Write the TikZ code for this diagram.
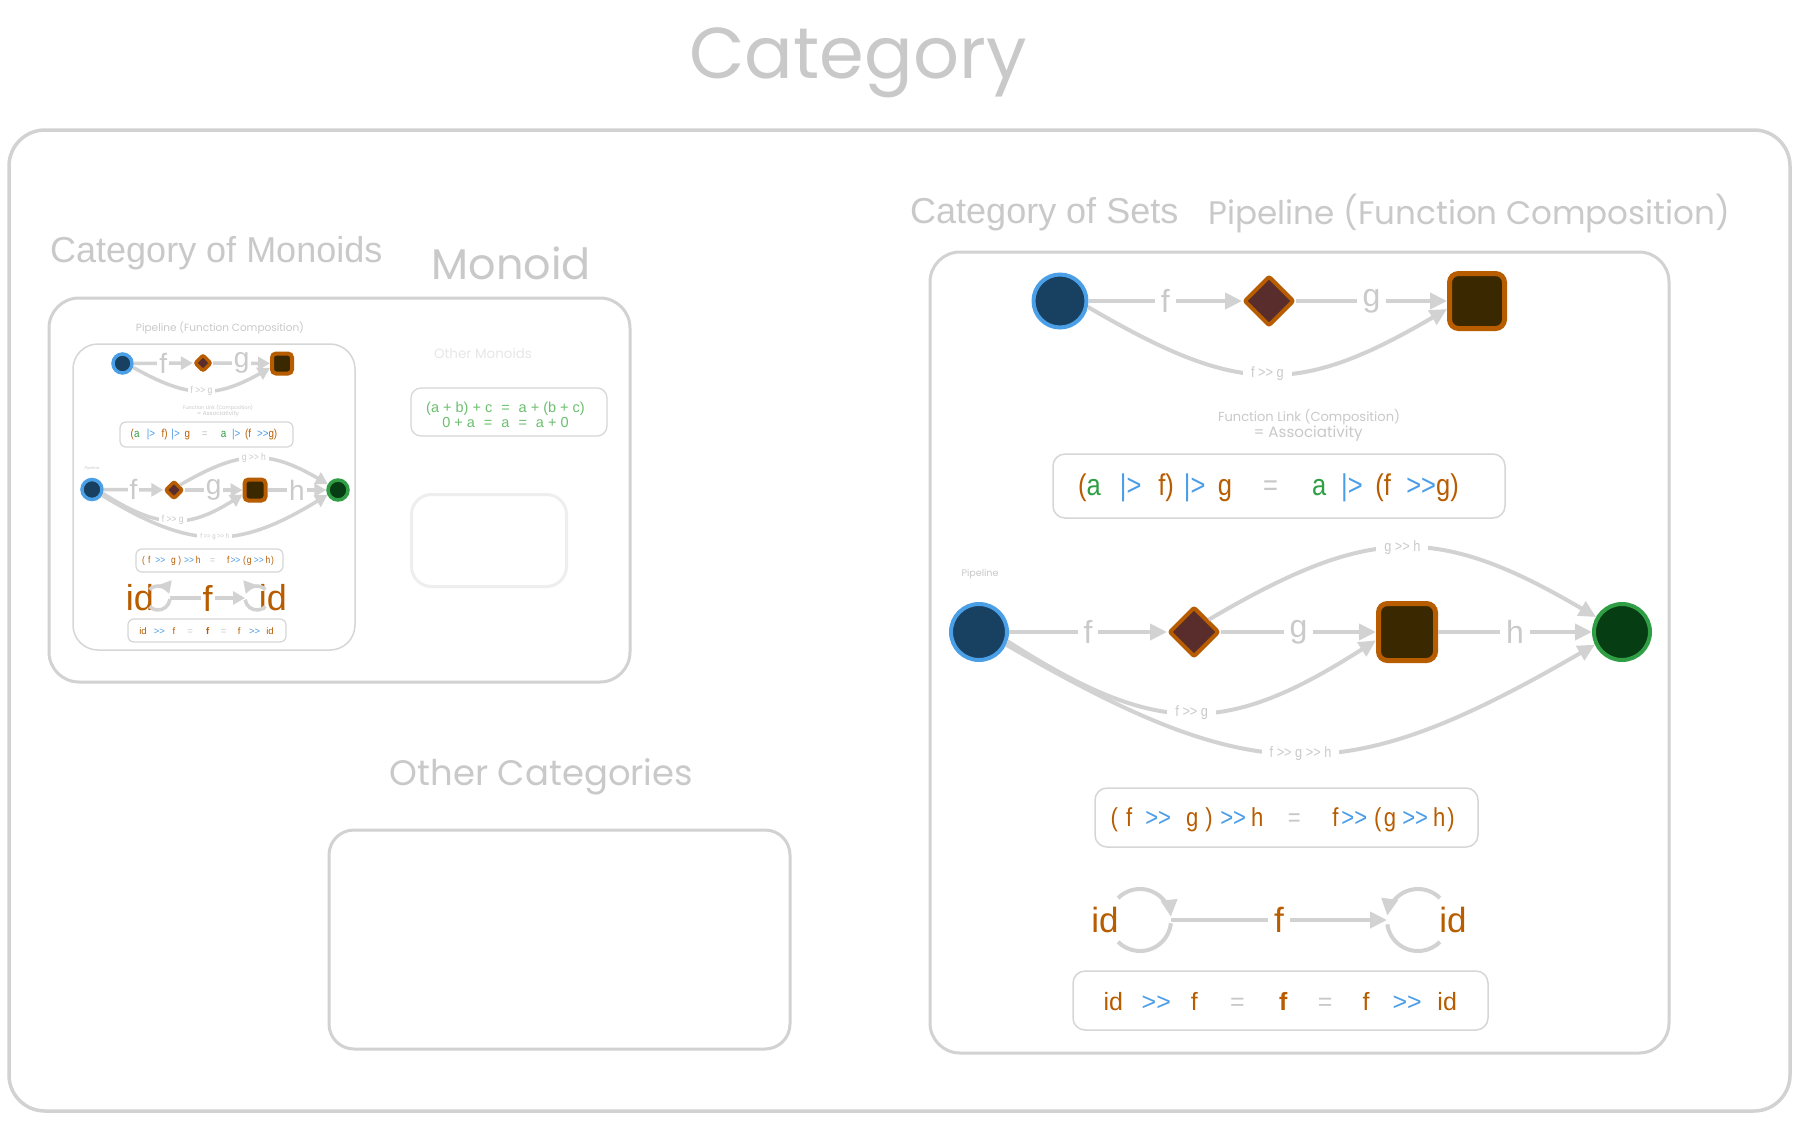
\documentclass[tikz,border=0pt]{standalone}
\usepackage{fontspec}
\setmainfont{Liberation Sans}
\newfontfamily\eqf[FakeStretch=0.85]{Liberation Sans}
\newfontfamily\hand{Poppins}
\usetikzlibrary{arrows.meta,shapes.geometric}
\definecolor{lg}{HTML}{D2D2D2}
\definecolor{hg}{HTML}{C9C9C9}
\definecolor{tg}{HTML}{CACACA}
\definecolor{bx}{HTML}{D6D6D6}
\definecolor{vf}{HTML}{EEEEEE}
\definecolor{bf}{HTML}{174061}
\definecolor{bs}{HTML}{4A9FE6}
\definecolor{df}{HTML}{5A2D2D}
\definecolor{ds}{HTML}{B85C00}
\definecolor{sf}{HTML}{3A2800}
\definecolor{gf}{HTML}{063D13}
\definecolor{gs}{HTML}{2F9E44}
\definecolor{eor}{HTML}{B85C00}
\definecolor{ebl}{HTML}{4A9DE8}
\definecolor{egr}{HTML}{2F9E44}
\definecolor{egy}{HTML}{C8C8C8}
\definecolor{lgr}{HTML}{6BBF6E}
\newcommand\fs[1]{\fontsize{#1}{#1}\selectfont}
\newcommand\txo[1]{\textcolor{eor}{#1}}
\newcommand\txb[1]{\textcolor{ebl}{#1}}
\newcommand\txg[1]{\textcolor{egr}{#1}}
\newcommand\txy[1]{\textcolor{egy}{#1}}
\newcommand\grr{>\kern0pt>}
\newcommand\EqA{\eqf\fs{30}\txo{(}\txg{a}\hspace{19pt}\txb{|>}\hspace{17pt}\txo{f)}\hspace{10pt}\txb{|>}\hspace{12.5pt}\txo{g}\hspace{31pt}\txy{=}\hspace{34pt}\txg{a}\hspace{15pt}\txb{|>}\hspace{12.5pt}\txo{(f}\hspace{15.5pt}\txb{\grr}\txo{g)}}
\newcommand\EqB{\eqf\fs{26}\txo{(}\hspace{8.3pt}\txo{f}\hspace{13pt}\txb{\grr}\hspace{15pt}\txo{g}\hspace{7pt}\txo{)}\hspace{7.5pt}\txb{\grr}\hspace{5pt}\txo{h}\hspace{24.5pt}\txy{=}\hspace{31.5pt}\txo{f}\hspace{3pt}\txb{\grr}\hspace{7pt}\txo{(}\hspace{2.4pt}\txo{g}\hspace{6pt}\txb{\grr}\hspace{5pt}\txo{h}\hspace{2pt}\txo{)}}
\newcommand\EqC{\fs{25}\txo{id}\hspace{18.7pt}\txb{\grr}\hspace{20pt}\txo{f}\hspace{32.2pt}\txy{=}\hspace{34.5pt}\txo{\bfseries f}\hspace{30.5pt}\txy{=}\hspace{30.2pt}\txo{f}\hspace{22.9pt}\txb{\grr}\hspace{15.7pt}\txo{id}}
\newcommand\hw[2]{\resizebox{#1pt}{!}{\hand #2}}
\begin{document}
\begin{tikzpicture}[x=1pt,y=-1pt,
  bigbox/.style={draw=lg, line width=3.5pt, rounded corners=36pt, inner sep=0pt},
  panel/.style={draw=lg, line width=3pt, rounded corners=30pt, inner sep=0pt},
  thinbox/.style={draw=bx, line width=1.5pt, rounded corners=12pt, inner sep=0pt},
  sthin/.style={draw=bx, line width=1.2pt, rounded corners=6pt, inner sep=0pt},
  circB/.style={circle, fill=bf, draw=bs, line width=4pt, minimum size=#1, inner sep=0pt},
  circG/.style={circle, fill=gf, draw=gs, line width=4pt, minimum size=#1, inner sep=0pt},
  diam/.style={diamond, fill=df, draw=ds, line width=4pt, minimum width=#1, minimum height=#1, inner sep=0pt, rounded corners=2pt},
  sqr/.style={rectangle, fill=sf, draw=ds, line width=5pt, minimum size=#1, inner sep=0pt, rounded corners=9pt},
  ssqr/.style={rectangle, fill=sf, draw=ds, line width=4pt, minimum size=#1, inner sep=0pt, rounded corners=4pt},
  eL/.style={draw=lg, line width=4pt, -{Triangle[length=17pt,width=16pt]}},
  nL/.style={draw=lg, line width=4pt},
  eS/.style={draw=lg, line width=3.5pt, -{Triangle[length=12pt,width=13pt]}},
  nS/.style={draw=lg, line width=3.5pt},
  lL/.style={fill=white, text=tg, font=\fs{32}, inner sep=6pt},
  lS/.style={fill=white, text=tg, font=\fs{28}, inner sep=2pt},
  cl/.style={fill=white, text=tg, font=\eqf\fs{15}, inner xsep=8pt, inner ysep=2pt},
  cls/.style={fill=white, text=tg, font=\eqf\fs{10}, inner xsep=3pt, inner ysep=1pt},
  clt/.style={fill=white, text=tg, font=\eqf\fs{7}, inner xsep=3pt, inner ysep=1pt},
  head/.style={text=hg, font=\fs{36}, anchor=base west, inner sep=0pt},
  hand/.style={text=hg, anchor=base, inner sep=0pt}
]
\useasboundingbox (0,0) rectangle (1800,1120);
\fill[white] (0,0) rectangle (1800,1120);

% ---------- frames ----------
\node[bigbox, minimum width=1781pt, minimum height=981pt] (outer) at (899.5,620.5) {};
\node[hand] (ttl) at (858,78) {\hw{337}{Category}};

\node[head] (hmon) at (50,262) {Category of Monoids};
\node[hand] (tmon) at (511.5,279) {\hw{159}{Monoid}};
\node[panel, minimum width=581pt, minimum height=384pt] (monbox) at (339.5,490) {};
\node[draw=bx, line width=1.5pt, rounded corners=25pt, minimum width=282pt, minimum height=306pt, inner sep=0pt] (pipebox) at (214,497) {};
\node[hand] (tpipes) at (220,331) {\hw{168}{Pipeline (Function Composition)}};
\node[hand, text=vf!80!hg] (toth) at (483,358) {\hw{98}{Other Monoids}};
\node[sthin, rounded corners=10pt, minimum width=196pt, minimum height=48pt] (omeq) at (509,412) {};
\node[text=lgr, font=\fs{14.5}, align=center, inner sep=0pt] (omtxt) at (505.5,415) {(a + b) + c\hspace{9pt}=\hspace{9pt}a + (b + c)\\[0.5pt]0 + a\hspace{9pt}=\hspace{9pt}a\hspace{9pt}=\hspace{9pt}a + 0};
\node[draw=vf, line width=3pt, rounded corners=20pt, minimum width=155pt, minimum height=92pt, inner sep=0pt] (faint) at (489,540.5) {};

\node[hand] (tothc) at (541.5,785) {\hw{303}{Other Categories}};
\node[panel, rounded corners=25pt, minimum width=461pt, minimum height=219pt] (othbox) at (559.5,939.5) {};

\node[head] (hsets) at (910,223) {Category of Sets};
\node[hand] (tpipe) at (1469.5,224) {\hw{521}{Pipeline (Function Composition)}};
\node[panel, minimum width=739pt, minimum height=801pt] (setbox) at (1299.5,652.5) {};

% ---------- large: top row ----------
\node[circB=53pt] (b1) at (1060,301) {};
\node[diam=50pt] (d1) at (1269,301) {};
\node[sqr=55pt] (s1) at (1477,301) {};
\draw[eL] (b1) -- node[lL]{f} (d1);
\draw[eL] (d1) -- node[lL]{g} (s1);
\draw[eL] (b1.-12) .. controls +(150,88) and +(-150,88) .. node[cl, pos=0.5]{f \grr{} g} (s1.195);

\node[hand] (tfl) at (1309,421) {\hw{182}{Function Link (Composition)}};
\node[hand] (tas) at (1308,437) {\hw{109}{= Associativity}};
\node[thinbox, minimum width=452pt, minimum height=64pt] (eq1) at (1279,486) {};
\node[anchor=base west, inner sep=0pt] (eq1t) at (1078,495) {\EqA};

% ---------- large: second row ----------
\node[hand] (tpl) at (980,576) {\hw{37}{Pipeline}};
\node[circB=56pt] (b2) at (979,632) {};
\node[diam=50pt] (d2) at (1194,632) {};
\node[sqr=57pt] (s2) at (1407,632) {};
\node[circG=56pt] (g2) at (1622,632) {};
\draw[eL] (b2) -- node[lL]{f} (d2);
\draw[eL] (d2) -- node[lL]{g} (s2);
\draw[eL] (s2) -- node[lL]{h} (g2);
\draw[eL] (d2.40) .. controls +(160,-94) and +(-160,-94) .. node[cl, pos=0.5]{g \grr{} h} (g2.150);
\draw[eL] (b2.-18) .. controls +(150,96) and +(-150,96) .. node[cl, pos=0.5]{f \grr{} g} (s2.195);
\draw[eL] (b2.-25) .. controls +(250,145) and +(-250,145) .. node[cl, pos=0.5]{f \grr{} g \grr{} h} (g2.205);

\node[thinbox, minimum width=383pt, minimum height=59pt] (eq2) at (1286.5,817.5) {};
\node[anchor=base west, inner sep=0pt] (eq2t) at (1110.3,826.5) {\EqB};

% ---------- large: identity ----------
\node[text=eor, font=\fs{35}, anchor=base, inner sep=0pt] (idl) at (1105,932) {id};
\node[text=eor, font=\fs{35}, anchor=base, inner sep=0pt] (idr) at (1453,932) {id};
\coordinate (lc) at (1140,920);
\coordinate (rc) at (1418,920);
\draw[eL] ([shift={(135:31pt)}]lc) arc[start angle=135, end angle=6, radius=31pt];
\draw[nL] ([shift={(-6:31pt)}]lc) arc[start angle=-6, end angle=-135, radius=31pt];
\draw[eL] ([shift={(0:31pt)}]lc) -- node[lL, text=eor, font=\fs{35}]{f} ([shift={(180:31pt)}]rc);
\draw[eL] ([shift={(45:31pt)}]rc) arc[start angle=45, end angle=172, radius=31pt];
\draw[nL] ([shift={(188:31pt)}]rc) arc[start angle=188, end angle=315, radius=31pt];
\node[thinbox, minimum width=415pt, minimum height=59pt] (eq3) at (1280.5,1000.5) {};
\node[anchor=base west, inner sep=0pt] (eq3t) at (1103.3,1010) {\EqC};

% ---------- small: top row ----------
\node[circB=19pt, line width=3.5pt] (sb1) at (122.5,363.5) {};
\node[diam=17pt, line width=3.5pt] (sd1) at (203,363) {};
\node[ssqr=20pt] (ss1) at (282,363.5) {};
\draw[eS] (sb1) -- node[lS]{f} (sd1);
\draw[eS] (sd1) -- node[lS]{g} (ss1);
\draw[eS] (sb1.-20) .. controls +(55,31) and +(-55,31) .. node[cls, pos=0.5]{f \grr{} g} (ss1.200);
\node[hand] (stfl) at (218,409) {\hw{70}{Function Link (Composition)}};
\node[hand] (stas) at (218,415) {\hw{42}{= Associativity}};
\node[sthin, minimum width=173pt, minimum height=25pt] (seq1) at (206.5,434.5) {};
\node[inner sep=0pt] (seq1t) at (204,435) {\scalebox{0.385}{\EqA}};

% ---------- small: second row ----------
\node[hand] (stpl) at (92,469) {\hw{15}{Pipeline}};
\node[circB=20pt, line width=3.5pt] (sb2) at (92,489.5) {};
\node[diam=18pt, line width=3.5pt] (sd2) at (174,490) {};
\node[ssqr=21pt] (ss2) at (255,490) {};
\node[circG=20pt, line width=3.5pt] (sg2) at (338,490) {};
\draw[eS] (sb2) -- node[lS]{f} (sd2);
\draw[eS] (sd2) -- node[lS]{g} (ss2);
\draw[eS] (ss2) -- node[lS]{h} (sg2);
\draw[eS] (sd2.40) .. controls +(60,-35) and +(-60,-35) .. node[cls, pos=0.5]{g \grr{} h} (sg2.150);
\draw[eS] (sb2.-20) .. controls +(55,35) and +(-55,35) .. node[cls, pos=0.5]{f \grr{} g} (ss2.200);
\draw[eS] (sb2.-30) .. controls +(90,55) and +(-90,55) .. node[clt, pos=0.5]{f \grr{} g \grr{} h} (sg2.205);
\node[sthin, minimum width=147pt, minimum height=23pt] (seq2) at (209.5,560.5) {};
\node[inner sep=0pt] (seq2t) at (208,561) {\scalebox{0.383}{\EqB}};

% ---------- small: identity ----------
\node[text=eor, font=\fs{36}, anchor=base, inner sep=0pt] (sidl) at (140,610) {id};
\node[text=eor, font=\fs{36}, anchor=base, inner sep=0pt] (sidr) at (273,610) {id};
\coordinate (slc) at (158,598);
\coordinate (src) at (257,598);
\draw[eS] ([shift={(135:12pt)}]slc) arc[start angle=135, end angle=20, radius=12pt];
\draw[nS] ([shift={(-6:12pt)}]slc) arc[start angle=-6, end angle=-135, radius=12pt];
\draw[eS] ([shift={(0:12pt)}]slc) -- node[lS, text=eor, font=\fs{36}]{f} ([shift={(180:12pt)}]src);
\draw[eS] ([shift={(45:12pt)}]src) arc[start angle=45, end angle=160, radius=12pt];
\draw[nS] ([shift={(188:12pt)}]src) arc[start angle=188, end angle=315, radius=12pt];
\node[sthin, minimum width=158pt, minimum height=23pt] (seq3) at (207,630.5) {};
\node[inner sep=0pt] (seq3t) at (206.5,631) {\scalebox{0.38}{\EqC}};
\end{tikzpicture}
\end{document}
